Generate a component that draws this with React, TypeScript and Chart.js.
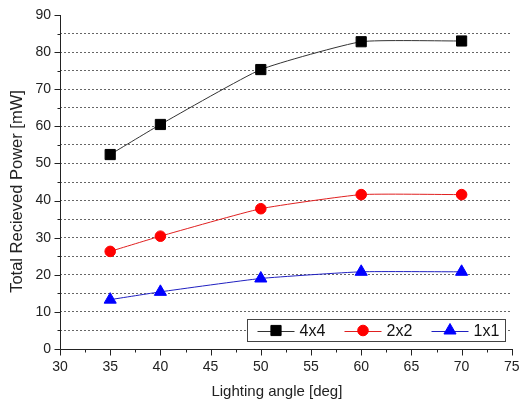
import React, { useEffect, useRef } from "react";
import { Chart, registerables } from "chart.js";
import { drawPoint } from "chart.js/helpers";

Chart.register(...registerables);

const angles = [35, 40, 50, 60, 70];
const power4x4 = [52.4, 60.5, 75.3, 82.8, 83.0];
const power2x2 = [26.3, 30.4, 37.8, 41.6, 41.6];
const power1x1 = [13.3, 15.4, 19.0, 20.8, 20.8];
const seriesLabels = ["4x4", "2x2", "1x1"];
const xTitle = "Lighting angle [deg]";
const yTitle = "Total Recieved Power [mW]";

const FONT = "'Liberation Sans', Arial, sans-serif";

const axisPlugin = {
  id: "axisTicks",
  afterDraw(chart: any) {
    const { ctx, chartArea, scales } = chart;
    const xs = scales.x;
    const ys = scales.y;
    ctx.save();
    ctx.strokeStyle = "#222";
    ctx.lineWidth = 1;
    ctx.beginPath();
    const L = Math.round(chartArea.left) + 0.5;
    const B = Math.round(chartArea.bottom) + 0.5;
    ctx.moveTo(L, Math.round(chartArea.top));
    ctx.lineTo(L, B);
    ctx.lineTo(Math.round(chartArea.right) + 1, B);
    for (let v = 0; v <= 90; v += 5) {
      const y = Math.round(ys.getPixelForValue(v)) + 0.5;
      const len = v % 10 === 0 ? 6 : 3;
      ctx.moveTo(L - len, y);
      ctx.lineTo(L, y);
    }
    for (let v = 30; v <= 75; v += 2.5) {
      const x = Math.round(xs.getPixelForValue(v)) + 0.5;
      const len = v % 5 === 0 ? 6 : 3;
      ctx.moveTo(x, B);
      ctx.lineTo(x, B + len);
    }
    ctx.stroke();

    // axis titles
    ctx.fillStyle = "#222";
    ctx.textAlign = "center";
    ctx.textBaseline = "middle";
    ctx.font = `15px ${FONT}`;
    ctx.fillText(xTitle, (chartArea.left + chartArea.right) / 2 - 9, chartArea.bottom + 43);
    ctx.save();
    ctx.translate(17, (chartArea.top + chartArea.bottom) / 2 + 9.5);
    ctx.rotate(-Math.PI / 2);
    ctx.font = `16.5px ${FONT}`;
    ctx.fillText(yTitle, 0, 0);
    ctx.restore();
    ctx.restore();
  },
};

const legendPlugin = {
  id: "boxLegend",
  afterDraw(chart: any) {
    const { ctx, chartArea } = chart;
    const w = 258;
    const h = 22;
    const left = Math.round(chartArea.right - 7 - w) + 0.5;
    const top = Math.round(chartArea.bottom - 30) + 0.5;
    ctx.save();
    ctx.fillStyle = "#fff";
    ctx.fillRect(left, top, w, h);
    ctx.strokeStyle = "#444";
    ctx.lineWidth = 1;
    ctx.strokeRect(left, top, w, h);
    const cy = top + h / 2;
    chart.data.datasets.forEach((ds: any, i: number) => {
      const x0 = left + 10 + i * 87;
      ctx.strokeStyle = ds.borderColor;
      ctx.lineWidth = 1;
      ctx.beginPath();
      ctx.moveTo(x0, Math.round(cy) + 0.5);
      ctx.lineTo(x0 + 37, Math.round(cy) + 0.5);
      ctx.stroke();
      ctx.fillStyle = ds.pointBackgroundColor;
      ctx.strokeStyle = ds.pointBorderColor;
      drawPoint(
        ctx,
        { pointStyle: ds.pointStyle, radius: ds.pointRadius, rotation: 0, borderWidth: 1 },
        x0 + 18.5,
        cy
      );
      ctx.fillStyle = "#111";
      ctx.font = `16px ${FONT}`;
      ctx.textBaseline = "middle";
      ctx.textAlign = "left";
      ctx.fillText(ds.label, x0 + 42, cy + 1);
    });
    ctx.restore();
  },
};

export default function App() {
  const ref = useRef<HTMLCanvasElement>(null);
  useEffect(() => {
    const toPts = (arr: number[]) => angles.map((a, i) => ({ x: a, y: arr[i] }));
    const chart = new Chart(ref.current!, {
      type: "line",
      data: {
        datasets: [
          {
            label: seriesLabels[0],
            data: toPts(power4x4),
            borderColor: "#333",
            borderWidth: 1,
            pointStyle: "rect",
            pointRadius: 7.2,
            pointBorderWidth: 1,
            pointBackgroundColor: "#000",
            pointBorderColor: "#000",
            tension: 0.15,
          },
          {
            label: seriesLabels[1],
            data: toPts(power2x2),
            borderColor: "#e02020",
            borderWidth: 1,
            pointStyle: "circle",
            pointRadius: 5.3,
            pointBackgroundColor: "#ff0000",
            pointBorderColor: "#ff0000",
            tension: 0.15,
          },
          {
            label: seriesLabels[2],
            data: toPts(power1x1),
            borderColor: "#2020c0",
            borderWidth: 1,
            pointStyle: "triangle",
            pointRadius: 7,
            pointBackgroundColor: "#0000ff",
            pointBorderColor: "#0000ff",
            tension: 0.15,
          },
        ],
      },
      options: {
        animation: false,
        responsive: false,
        maintainAspectRatio: false,
        layout: { padding: { top: 15, right: 7, left: 0, bottom: 0 } },
        plugins: { legend: { display: false }, tooltip: { enabled: false } },
        scales: {
          x: {
            type: "linear",
            min: 30,
            max: 75,
            grid: { display: false, drawTicks: false },
            border: { display: false },
            ticks: {
              stepSize: 5,
              autoSkip: false,
              maxRotation: 0,
              padding: 10,
              color: "#222",
              font: { size: 14, family: FONT },
            },
            title: { display: false },
            afterFit: (s: any) => {
              s.height = 56;
              s.paddingLeft = 0;
              s.paddingRight = 0;
            },
          },
          y: {
            min: 0,
            max: 90,
            grid: {
              drawTicks: false,
              color: (c: any) =>
                c.tick && (c.tick.value === 0 || c.tick.value === 90) ? "rgba(0,0,0,0)" : "#666",
              lineWidth: 1,
            },
            border: { display: false, dash: [2, 2] },
            ticks: {
              stepSize: 5,
              autoSkip: false,
              padding: 9,
              color: "#222",
              font: { size: 14, family: FONT },
              callback: (v: any) => (Number(v) % 10 === 0 ? String(v) : ""),
            },
            title: { display: false },
            afterFit: (s: any) => {
              s.width = 60;
              s.paddingTop = 0;
              s.paddingBottom = 0;
            },
          },
        },
      },
      plugins: [axisPlugin, legendPlugin],
    } as any);
    return () => chart.destroy();
  }, []);
  return (
    <div style={{ position: "fixed", left: 0, top: 0, width: 520, height: 405, background: "#fff" }}>
      <canvas ref={ref} width={520} height={405} style={{ width: 520, height: 405 }} />
    </div>
  );
}
